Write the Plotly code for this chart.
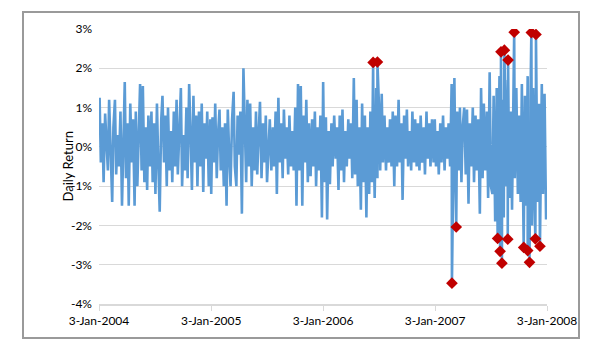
import pandas as pd
import plotly.graph_objects as go

# Daily returns (%), sampled along the chart, one list per year
r2004 = [1.25, -0.4, 0.6, -0.9, 0.85, 0.1, -0.6, 1.2, -0.3, -1.4, 0.5, 1.2, -0.7, 0.3, -0.5, 0.9, -1.5, 0.4, 1.65, -0.8, 0.6,
         -1.5, 1.1, -0.4, 0.7, -1.5, 0.9, -1.0, 0.3, 1.6, -0.6, 1.55, -0.9, 0.5, -1.1, 0.8,
         -0.5, 0.9, -0.9, 0.6, -1.2, 1.1, -0.3, -1.65, 0.7, 1.3, -0.4, 0.8, -1.0, 1.0, -0.6, 0.4, -0.9, 0.9, -0.5,
         1.2, -0.7, 0.5, 1.5, -1.0, 0.3, -0.6, 1.0, -0.8, 1.6, 0.2, -1.1, 1.3, -0.4, 0.8, -1.0, 0.9, -0.5, 1.1, -1.15, 0.6, -0.3, 0.9, -1.0, 0.7]
r2005 = [-1.2, 0.75, -0.4, 1.1, -0.8, 0.3, 0.95, -0.6, 0.5, -1.0, 0.6,
         -1.5, 0.95, -0.3, -1.0, 0.7, 1.4, -0.5, -1.0, 0.8, -0.2,
         0.9, -1.7, 2.0, 0.4, -0.9, 1.2, -0.5, 1.1, -1.0, 0.5, -0.6,
         0.9, -0.7, 0.4, 1.15, -0.8, 0.6, -0.4, 0.8, -0.9, 0.3, 0.7, -0.6, 0.5, -0.5,
         0.9, -1.2, 1.25, -0.4, 0.6, -0.8, 0.95, -0.3, 0.5, -0.7, 0.8, -0.5, 0.4, -0.6,
         1.0, -1.5, 1.6, -0.6, 1.55, -1.5, 0.8, -0.4, 1.2, -0.9, 0.6, -0.75, 0.7, -0.5, 0.9, -1.0, 0.5, -0.6, 0.8, -1.8]
r2006 = [1.65, -0.9, 0.75, -1.85, 0.4, -0.95, 0.6, -0.5, 0.8, -0.3, 0.5, -1.1,
         0.8, -0.6, 0.95, -0.9, 0.4, -0.5, 0.7, -0.3, 0.6, -0.8, 1.75,
         -0.7, 1.2, -1.0, 0.5, -1.6, 1.1, -0.9, 0.8, -1.8, 0.5, -1.2, 0.9,
         -0.9, 0.6, -1.3, 1.5, -0.8, 1.05, -0.6, 1.35, -0.4, 0.8, -0.6, 0.5, -0.4, 0.7, -0.5, 0.9,
         -1.0, 0.8, -0.5, 1.2, -0.4, 0.6, -1.35, 0.8, -0.3, 0.95, -0.5, 0.4, -0.6, 0.9, -0.4, 0.7, -0.5, 0.6, -0.6, 0.8,
         -0.4, 0.5, -0.7, 0.9, -0.3, 0.6, -0.5, 0.7, -0.4]
r2007 = [0.7, -0.5, 0.4, -0.7, 0.6, -0.4, 0.8, -0.6, 0.5, -0.3, 0.6, -0.5,
         1.6, -0.8, 1.75, -1.1, 0.9, -0.6, 1.0, -0.9, 0.5,
         1.0, -0.7, 0.95, -1.45, 0.6, -0.5, 1.0, -0.9, 0.8, -0.6, 0.7, -1.7, 1.5, -0.8, 1.1, -0.6, 0.9, -1.3, 1.9, -1.0,
         -1.2, 1.3, -1.9, 1.5, -1.5, 1.8, -1.9, 1.2, -1.8, 1.4, -1.0, 1.7, -1.3, 0.9, -1.6, 1.2, -0.8, 1.5, -1.2, 0.8,
         -1.4, 1.6, -1.9, 1.3, -1.5, 1.8, -1.7, 1.2, -2.0, 1.5, -1.6, 1.7, -1.4, 1.1, -1.8, 1.6, -1.2, 1.35, -1.85]

# Days with absolute return above 2% (highlighted)
out_dates = ["2006-06-15", "2006-06-29", "2007-02-27", "2007-03-13", "2007-07-26", "2007-08-03",
             "2007-08-06", "2007-08-09", "2007-08-17", "2007-08-28", "2007-08-29", "2007-09-18",
             "2007-10-19", "2007-11-01", "2007-11-07", "2007-11-13", "2007-11-26", "2007-11-28", "2007-12-11"]
out_vals = [2.15, 2.16, -3.47, -2.04, -2.33, -2.66,
            2.42, -2.96, 2.46, -2.35, 2.21, 2.92,
            -2.56, -2.64, -2.94, 2.91, -2.34, 2.86, -2.53]

year_starts = ["2004-01-05", "2005-01-03", "2006-01-03", "2007-01-02"]
year_ends = ["2004-12-31", "2005-12-30", "2006-12-29", "2007-12-31"]
tick_vals = ["2004-01-03", "2005-01-03", "2006-01-03", "2007-01-03", "2008-01-03"]
tick_text = ["3-Jan-2004", "3-Jan-2005", "3-Jan-2006", "3-Jan-2007", "3-Jan-2008"]
y_ticks = [-0.04, -0.03, -0.02, -0.01, 0.0, 0.01, 0.02, 0.03]
y_text = ["-4%", "-3%", "-2%", "-1%", "0%", "1%", "2%", "3%"]

parts = []
for vals, s, e in zip([r2004, r2005, r2006, r2007], year_starts, year_ends):
    parts.append(pd.Series(vals, index=pd.date_range(s, e, periods=len(vals)).normalize()))
outs = pd.Series(out_vals, index=pd.to_datetime(out_dates))
series = pd.concat(parts + [outs]).sort_index()

fig = go.Figure()
fig.add_trace(go.Scatter(x=series.index, y=series.values / 100, mode="lines",
                         line=dict(color="#5b9bd5", width=2.6), hoverinfo="skip"))
fig.add_trace(go.Scatter(x=outs.index, y=outs.values / 100, mode="markers",
                         marker=dict(symbol="diamond", color="#c00000", size=9), hoverinfo="skip"))

W, H = 597, 352
L, R, T, B = 99, 50, 29, 48
pw, ph = W - L - R, H - T - B
def px(x):
    return (x - L) / pw
def py(y):
    return (H - B - y) / ph

fig.add_shape(type="rect", xref="paper", yref="paper",
              x0=px(23), x1=px(579), y0=py(338), y1=py(12),
              line=dict(color="#9a9a9a", width=2), fillcolor="rgba(0,0,0,0)", layer="below")

fig.add_annotation(text="Daily Return", xref="paper", yref="paper", x=px(57), y=0.5,
                   textangle=-90, showarrow=False, font=dict(size=13, color="#000000"))

fig.update_layout(
    width=W, height=H, margin=dict(l=L, r=R, t=T, b=B),
    paper_bgcolor="white", plot_bgcolor="white", showlegend=False,
    font=dict(family="Lato, Open Sans, sans-serif", size=12, color="#000000"),
    xaxis=dict(type="date", range=["2004-01-03", "2008-01-03"], tickvals=tick_vals, ticktext=tick_text,
               showgrid=False, showline=True, linecolor="#d9d9d9", linewidth=1.5,
               ticks="outside", ticklen=5, tickcolor="#d9d9d9", zeroline=False, tickangle=0),
    yaxis=dict(range=[-0.04, 0.03], tickvals=y_ticks, ticktext=y_text, showgrid=True, gridcolor="#d9d9d9",
               gridwidth=1.3, zeroline=False, showline=False, ticks="", ticklabelstandoff=6),
)

fig.write_html("out.html")
